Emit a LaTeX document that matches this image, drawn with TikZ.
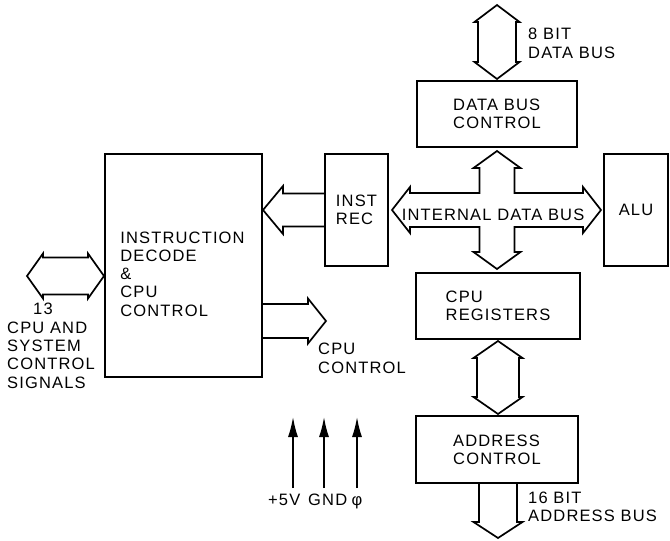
\documentclass[tikz,border=0pt]{standalone}
\usepackage{fontspec}
\setmainfont{Liberation Sans}[LetterSpace=7]
\usetikzlibrary{calc,arrows.meta}
\newcommand\dgfont{\fontsize{16.5}{18.3}\selectfont}
% vertical double hollow arrow: #1 top tip, #2 bottom tip, #3 half shaft, #4 half head, #5 head length
\newcommand\vdarrow[5]{%
 \path[hollow] let \p1=#1, \p2=#2 in (\x1,\y1) -- (\x1+#4,\y1-#5) -- (\x1+#3,\y1-#5) -- (\x1+#3,\y2+#5) -- (\x1+#4,\y2+#5) -- (\x1,\y2) -- (\x1-#4,\y2+#5) -- (\x1-#3,\y2+#5) -- (\x1-#3,\y1-#5) -- (\x1-#4,\y1-#5) -- cycle;}
% vertical single hollow arrow pointing down: #1 tail, #2 tip
\newcommand\vdown[5]{%
 \path[hollow] let \p1=#1, \p2=#2 in (\x2-#3,\y1) -- (\x2-#3,\y2+#5) -- (\x2-#4,\y2+#5) -- (\x2,\y2) -- (\x2+#4,\y2+#5) -- (\x2+#3,\y2+#5) -- (\x2+#3,\y1);}
% horizontal double hollow arrow: #1 left tip, #2 right tip
\newcommand\hdarrow[5]{%
 \path[hollow] let \p1=#1, \p2=#2 in (\x1,\y1) -- (\x1+#5,\y1+#4) -- (\x1+#5,\y1+#3) -- (\x2-#5,\y1+#3) -- (\x2-#5,\y1+#4) -- (\x2,\y1) -- (\x2-#5,\y1-#4) -- (\x2-#5,\y1-#3) -- (\x1+#5,\y1-#3) -- (\x1+#5,\y1-#4) -- cycle;}
% horizontal single hollow arrows: #1 tail, #2 tip
\newcommand\hright[5]{%
 \path[hollow] let \p1=#1, \p2=#2 in (\x1,\y2+#3) -- (\x2-#5,\y2+#3) -- (\x2-#5,\y2+#4) -- (\x2,\y2) -- (\x2-#5,\y2-#4) -- (\x2-#5,\y2-#3) -- (\x1,\y2-#3);}
\newcommand\hleft[5]{%
 \path[hollow] let \p1=#1, \p2=#2 in (\x1,\y2+#3) -- (\x2+#5,\y2+#3) -- (\x2+#5,\y2+#4) -- (\x2,\y2) -- (\x2+#5,\y2-#4) -- (\x2+#5,\y2-#3) -- (\x1,\y2-#3);}
\tikzset{
 box/.style={draw, line width=2pt, inner sep=0pt, align=left, font=\dgfont},
 hollow/.style={draw, line width=1.7pt, line join=miter},
 txt/.style={inner sep=0pt, align=left, font=\dgfont},
 pwr/.style={line width=1.5pt, -{Latex[length=20pt,width=10pt]}},
}
\begin{document}
\begin{tikzpicture}[x=1pt,y=-1pt]
\fill[white] (0,0) rectangle (670,541);
\useasboundingbox (0,0) rectangle (670,541);

% blocks
\node[box, minimum width=157pt, minimum height=223pt] (idc) at (183.5,265.5) {};
\node[txt] (idct) at (182.5,274) {INSTRUCTION\\DECODE\\\&\\CPU\\CONTROL};
\node[box, minimum width=63pt, minimum height=112pt] (inst) at (356.5,210) {INST\\REC};
\node[box, minimum width=160pt, minimum height=66pt] (dbc) at (497,114) {DATA BUS\\CONTROL};
\node[box, minimum width=64pt, minimum height=112pt] (alu) at (636,210) {ALU};
\node[box, minimum width=164pt, minimum height=66pt] (reg) at (498,306) {CPU\\REGISTERS};
\node[box, minimum width=162pt, minimum height=67pt] (adr) at (497,449.5) {ADDRESS\\CONTROL};

% free ends
\coordinate (sig) at (27,276);
\coordinate (cc) at (326,321);
\coordinate (db) at (497,5);
\coordinate (ab) at (498,538);

% hollow bus arrows
\hdarrow{(sig)}{(sig -| idc.west)}{18.5pt}{22.5pt}{16pt}
\hleft{(inst.west)}{(inst.west -| idc.east)}{16.5pt}{24pt}{20pt}
\hright{(cc -| idc.east)}{(cc)}{17pt}{22.5pt}{18pt}
\vdarrow{(db)}{([yshift=1pt]dbc.north)}{19pt}{22.5pt}{17pt}
\vdarrow{([yshift=-1pt]reg.south)}{([yshift=1pt]adr.north)}{21pt}{24.5pt}{17pt}
\vdown{(adr.south)}{(ab)}{19pt}{24.5pt}{16pt}

% internal data bus cross
\path[hollow] let \p1=([xshift=3pt]inst.east), \p2=([xshift=-2pt]alu.west),
  \p3=([yshift=-3pt]dbc.south), \p4=([yshift=3pt]reg.north) in
 (\x1,\y1) -- (\x1+18pt,\y1+23pt) -- (\x1+18pt,\y1+17pt) -- (\x3-17.5pt,\y1+17pt)
 -- (\x3-17.5pt,\y3-17pt) -- (\x3-23.5pt,\y3-17pt) -- (\x3,\y3) -- (\x3+23.5pt,\y3-17pt)
 -- (\x3+17.5pt,\y3-17pt) -- (\x3+17.5pt,\y1+17pt) -- (\x2-18pt,\y1+17pt) -- (\x2-18pt,\y1+23pt)
 -- (\x2,\y1) -- (\x2-18pt,\y1-23pt) -- (\x2-18pt,\y1-17pt) -- (\x3+17.5pt,\y1-17pt)
 -- (\x3+17.5pt,\y4+17pt) -- (\x3+23.5pt,\y4+17pt) -- (\x3,\y4) -- (\x3-23.5pt,\y4+17pt)
 -- (\x3-17.5pt,\y4+17pt) -- (\x3-17.5pt,\y1-17pt) -- (\x1+18pt,\y1-17pt) -- (\x1+18pt,\y1-23pt) -- cycle;
\node[txt, anchor=base west] (idb) at (401.7,220) {INTERNAL DATA BUS};

% labels
\node[txt, anchor=north west] (sigl) at (7,303.2) {\hspace*{26pt}13\\CPU AND\\SYSTEM\\CONTROL\\SIGNALS};
\node[txt, anchor=north west] (dbl) at (528,28.2) {8 BIT\\DATA BUS};
\node[txt, anchor=north west] (abl) at (528,491.5) {16 BIT\\ADDRESS BUS};
\node[txt, anchor=north west] (ccl) at (318,343.2) {CPU\\CONTROL};

% power inputs
\node[txt, anchor=base west] (v5) at (268,505) {+5V};
\node[txt, anchor=base west] (gnd) at (308,505) {GND};
\node[txt, anchor=base] (phi) at (357,505) {φ};
\coordinate (v5b) at (293,488); \coordinate (v5t) at (293,417);
\coordinate (gb) at (324,488); \coordinate (gt) at (324,417);
\coordinate (pb) at (357,488); \coordinate (pt) at (357,417);
\draw[pwr] (v5b) -- (v5t);
\draw[pwr] (gb) -- (gt);
\draw[pwr] (pb) -- (pt);
\end{tikzpicture}
\end{document}
